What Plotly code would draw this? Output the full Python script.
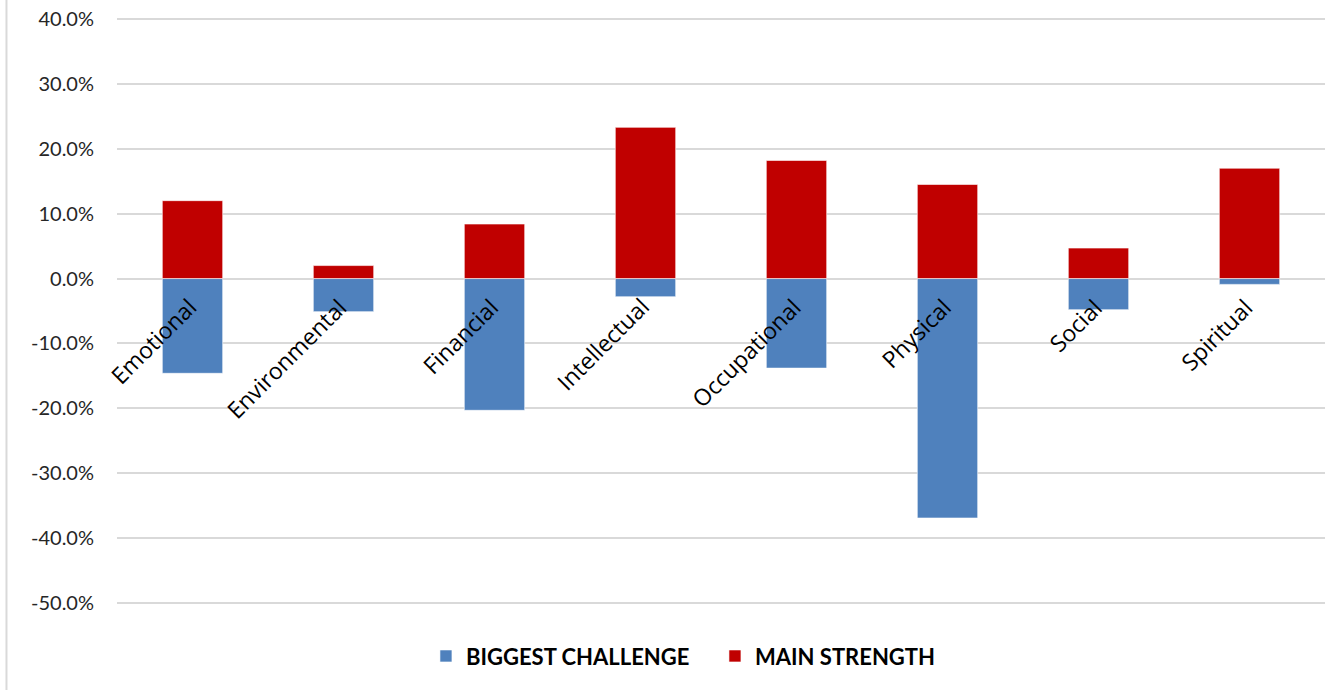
import plotly.graph_objects as go

categories = ["Emotional", "Environmental", "Financial", "Intellectual",
              "Occupational", "Physical", "Social", "Spiritual"]
biggest_challenge = [-0.146, -0.051, -0.203, -0.028, -0.138, -0.369, -0.048, -0.009]
main_strength = [0.120, 0.020, 0.084, 0.233, 0.182, 0.145, 0.047, 0.170]
y_ticks = [-0.5, -0.4, -0.3, -0.2, -0.1, 0.0, 0.1, 0.2, 0.3, 0.4]
y_tick_labels = ["-50.0%", "-40.0%", "-30.0%", "-20.0%", "-10.0%",
                 "0.0%", "10.0%", "20.0%", "30.0%", "40.0%"]

fig = go.Figure()
fig.add_trace(go.Bar(x=categories, y=biggest_challenge, name="BIGGEST CHALLENGE",
                     marker=dict(color="#4f81bd", line=dict(color="rgba(255,255,255,0.6)", width=1)),
                     width=0.4))
fig.add_trace(go.Bar(x=categories, y=main_strength, name="MAIN STRENGTH",
                     marker=dict(color="#c00000", line=dict(color="rgba(255,255,255,0.6)", width=1)),
                     width=0.4))

for c in categories:
    fig.add_annotation(x=c, y=0, text=c, showarrow=False, textangle=-45,
                       xanchor="right", yanchor="top", xshift=13, yshift=-10,
                       font=dict(family="Open Sans", size=23, color="#000000"))

fig.add_shape(type="line", xref="paper", yref="paper",
              x0=-0.0915, x1=-0.0915, y0=-0.16, y1=1.05,
              line=dict(color="#d9d9d9", width=2))

fig.update_layout(
    width=1340, height=690,
    margin=dict(l=117, r=15, t=17, b=85, autoexpand=False),
    barmode="relative",
    paper_bgcolor="white", plot_bgcolor="white",
    showlegend=True,
    legend=dict(orientation="h", x=0.495, xanchor="center", y=-0.087, yanchor="middle",
                font=dict(family="Lato", size=22, color="#000000", weight="bold"),
                traceorder="normal", itemwidth=30, entrywidth=244),
    xaxis=dict(range=[-0.5, 7.5], showticklabels=False, showgrid=False, zeroline=False,
               showline=False, ticks="", automargin=False),
    yaxis=dict(range=[-0.503, 0.403], tickvals=y_ticks, ticktext=y_tick_labels,
               showgrid=True, gridcolor="#d9d9d9", gridwidth=2,
               zeroline=True, zerolinecolor="#d9d9d9", zerolinewidth=2,
               showline=False, ticks="", ticklabelstandoff=22, automargin=False,
               tickfont=dict(family="Lato", size=20, color="#262626")),
)

fig.write_html("out.html", post_script="document.body.style.margin='0';",
               config={"displayModeBar": False})
